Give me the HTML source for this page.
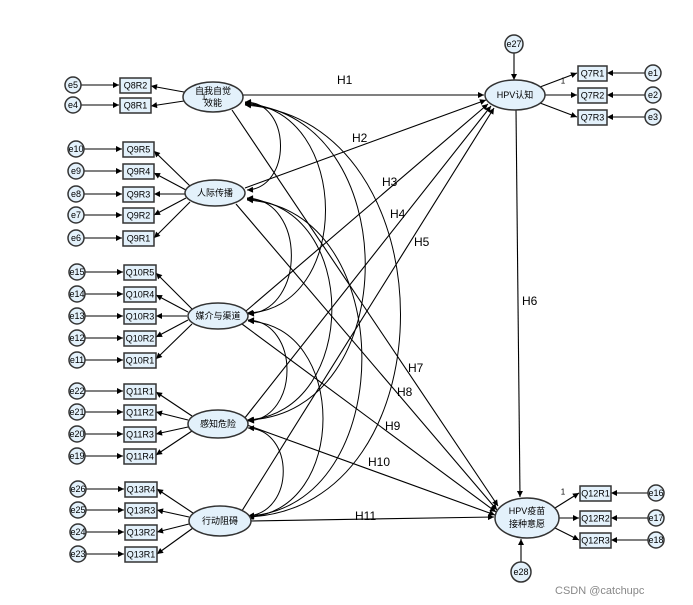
<!DOCTYPE html>
<html><head><meta charset="utf-8"><style>
body{margin:0;background:#fff}
svg{display:block;font-family:"Liberation Sans","Noto Sans CJK SC",sans-serif}
.b{fill:#e3f1fb;stroke:#333;stroke-width:1.5}
.l{stroke:#000;stroke-width:1.1;fill:none;marker-end:url(#a)}
.c{stroke:#000;stroke-width:1;fill:none;marker-end:url(#a);marker-start:url(#s)}
.t{font-size:9px;text-anchor:middle;dominant-baseline:central}
.h{font-size:12px}
.o{font-size:5px}
</style></head><body>
<svg width="693" height="605" viewBox="0 0 693 605" xmlns="http://www.w3.org/2000/svg">
<defs>
<marker id="a" viewBox="0 0 10 10" refX="10" refY="5" markerWidth="8" markerHeight="6" orient="auto" markerUnits="userSpaceOnUse"><path d="M0,0L10,5L0,10z"/></marker>
<marker id="s" viewBox="0 0 10 10" refX="0" refY="5" markerWidth="8" markerHeight="6" orient="auto" markerUnits="userSpaceOnUse"><path d="M10,0L0,5L10,10z"/></marker>
</defs>

<!-- covariance arcs -->
<path class="c" d="M245,102 C292,102 292,188 247,190"/>
<path class="c" d="M245,103 C352,110 352,310 247,313"/>
<path class="c" d="M245,104 C405,115 405,415 247,420"/>
<path class="c" d="M245,105 C452,120 452,510 247,517"/>
<path class="c" d="M247,198 C306,200 306,310 248,314"/>
<path class="c" d="M247,199 C360,205 360,412 248,420"/>
<path class="c" d="M247,200 C400,208 400,508 248,516"/>
<path class="c" d="M248,320 C300,322 300,418 248,421"/>
<path class="c" d="M248,321 C348,325 348,512 248,517"/>
<path class="c" d="M248,428 C295,430 295,512 248,516"/>

<!-- structural paths -->
<line class="l" x1="243" y1="95" x2="484" y2="95"/>
<line class="l" x1="245" y1="188" x2="486" y2="100"/>
<line class="l" x1="246" y1="311" x2="488" y2="104"/>
<line class="l" x1="244" y1="419" x2="491" y2="106"/>
<line class="l" x1="240" y1="514" x2="494" y2="108"/>
<line class="l" x1="516" y1="109" x2="520" y2="497"/>
<line class="l" x1="232" y1="110" x2="498" y2="506"/>
<line class="l" x1="236" y1="204" x2="497" y2="510"/>
<line class="l" x1="242" y1="324" x2="496" y2="512"/>
<line class="l" x1="247" y1="425" x2="495" y2="515"/>
<line class="l" x1="250" y1="521" x2="494" y2="517"/>

<g class="h">
<text x="337" y="84">H1</text><text x="352" y="142">H2</text><text x="382" y="186">H3</text>
<text x="390" y="218">H4</text><text x="414" y="246">H5</text><text x="522" y="305">H6</text>
<text x="408" y="372">H7</text><text x="397" y="396">H8</text><text x="385" y="430">H9</text>
<text x="368" y="466">H10</text><text x="355" y="520">H11</text>
</g>

<!-- left indicators -->
<g id="left">
<!-- latent -> indicators -->
<line class="l" x1="184" y1="92" x2="151" y2="86"/><line class="l" x1="184" y1="101" x2="151" y2="106"/>
<line class="l" x1="190" y1="186" x2="154" y2="151"/><line class="l" x1="186" y1="190" x2="154" y2="173"/>
<line class="l" x1="185" y1="194" x2="154" y2="194"/><line class="l" x1="186" y1="198" x2="154" y2="215"/>
<line class="l" x1="190" y1="202" x2="154" y2="238"/>
<line class="l" x1="192" y1="309" x2="156" y2="273"/><line class="l" x1="188" y1="312" x2="156" y2="295"/>
<line class="l" x1="187" y1="316" x2="156" y2="316"/><line class="l" x1="188" y1="320" x2="156" y2="337"/>
<line class="l" x1="192" y1="324" x2="156" y2="359"/>
<line class="l" x1="192" y1="416" x2="156" y2="392"/><line class="l" x1="188" y1="420" x2="156" y2="412"/>
<line class="l" x1="188" y1="427" x2="156" y2="434"/><line class="l" x1="192" y1="431" x2="156" y2="455"/>
<line class="l" x1="193" y1="513" x2="157" y2="489"/><line class="l" x1="189" y1="517" x2="157" y2="510"/>
<line class="l" x1="189" y1="524" x2="157" y2="532"/><line class="l" x1="193" y1="528" x2="157" y2="554"/>
</g>

<g class="t">
<!-- error -> indicator lines, boxes, circles -->
<g>
<line class="l" x1="81" y1="85" x2="119" y2="85"/><line class="l" x1="81" y1="105" x2="119" y2="105"/>
<rect class="b" x="120" y="78" width="31" height="15"/><text x="135.5" y="85.5">Q8R2</text>
<rect class="b" x="120" y="98" width="31" height="15"/><text x="135.5" y="105.5">Q8R1</text>
<circle class="b" cx="73" cy="85" r="8"/><text x="73" y="85">e5</text>
<circle class="b" cx="73" cy="105" r="8"/><text x="73" y="105">e4</text>
</g>
<g>
<line class="l" x1="84" y1="149" x2="122" y2="149"/><line class="l" x1="84" y1="171" x2="122" y2="171"/>
<line class="l" x1="84" y1="194" x2="122" y2="194"/><line class="l" x1="84" y1="215" x2="122" y2="215"/>
<line class="l" x1="84" y1="238" x2="122" y2="238"/>
<rect class="b" x="123" y="142" width="31" height="15"/><text x="138.5" y="149.5">Q9R5</text>
<rect class="b" x="123" y="164" width="31" height="15"/><text x="138.5" y="171.5">Q9R4</text>
<rect class="b" x="123" y="187" width="31" height="15"/><text x="138.5" y="194.5">Q9R3</text>
<rect class="b" x="123" y="208" width="31" height="15"/><text x="138.5" y="215.5">Q9R2</text>
<rect class="b" x="123" y="231" width="31" height="15"/><text x="138.5" y="238.5">Q9R1</text>
<circle class="b" cx="76" cy="149" r="8"/><text x="76" y="149">e10</text>
<circle class="b" cx="76" cy="171" r="8"/><text x="76" y="171">e9</text>
<circle class="b" cx="76" cy="194" r="8"/><text x="76" y="194">e8</text>
<circle class="b" cx="76" cy="215" r="8"/><text x="76" y="215">e7</text>
<circle class="b" cx="76" cy="238" r="8"/><text x="76" y="238">e6</text>
</g>
<g>
<line class="l" x1="85" y1="272" x2="123" y2="272"/><line class="l" x1="85" y1="294" x2="123" y2="294"/>
<line class="l" x1="85" y1="316" x2="123" y2="316"/><line class="l" x1="85" y1="338" x2="123" y2="338"/>
<line class="l" x1="85" y1="360" x2="123" y2="360"/>
<rect class="b" x="124" y="265" width="32" height="15"/><text x="140" y="272.5">Q10R5</text>
<rect class="b" x="124" y="287" width="32" height="15"/><text x="140" y="294.5">Q10R4</text>
<rect class="b" x="124" y="309" width="32" height="15"/><text x="140" y="316.5">Q10R3</text>
<rect class="b" x="124" y="331" width="32" height="15"/><text x="140" y="338.5">Q10R2</text>
<rect class="b" x="124" y="353" width="32" height="15"/><text x="140" y="360.5">Q10R1</text>
<circle class="b" cx="77" cy="272" r="8"/><text x="77" y="272">e15</text>
<circle class="b" cx="77" cy="294" r="8"/><text x="77" y="294">e14</text>
<circle class="b" cx="77" cy="316" r="8"/><text x="77" y="316">e13</text>
<circle class="b" cx="77" cy="338" r="8"/><text x="77" y="338">e12</text>
<circle class="b" cx="77" cy="360" r="8"/><text x="77" y="360">e11</text>
</g>
<g>
<line class="l" x1="85" y1="391" x2="123" y2="391"/><line class="l" x1="85" y1="412" x2="123" y2="412"/>
<line class="l" x1="85" y1="434" x2="123" y2="434"/><line class="l" x1="85" y1="456" x2="123" y2="456"/>
<rect class="b" x="124" y="384" width="32" height="15"/><text x="140" y="391.5">Q11R1</text>
<rect class="b" x="124" y="405" width="32" height="15"/><text x="140" y="412.5">Q11R2</text>
<rect class="b" x="124" y="427" width="32" height="15"/><text x="140" y="434.5">Q11R3</text>
<rect class="b" x="124" y="449" width="32" height="15"/><text x="140" y="456.5">Q11R4</text>
<circle class="b" cx="77" cy="391" r="8"/><text x="77" y="391">e22</text>
<circle class="b" cx="77" cy="412" r="8"/><text x="77" y="412">e21</text>
<circle class="b" cx="77" cy="434" r="8"/><text x="77" y="434">e20</text>
<circle class="b" cx="77" cy="456" r="8"/><text x="77" y="456">e19</text>
</g>
<g>
<line class="l" x1="86" y1="489" x2="124" y2="489"/><line class="l" x1="86" y1="510" x2="124" y2="510"/>
<line class="l" x1="86" y1="532" x2="124" y2="532"/><line class="l" x1="86" y1="554" x2="124" y2="554"/>
<rect class="b" x="125" y="482" width="32" height="15"/><text x="141" y="489.5">Q13R4</text>
<rect class="b" x="125" y="503" width="32" height="15"/><text x="141" y="510.5">Q13R3</text>
<rect class="b" x="125" y="525" width="32" height="15"/><text x="141" y="532.5">Q13R2</text>
<rect class="b" x="125" y="547" width="32" height="15"/><text x="141" y="554.5">Q13R1</text>
<circle class="b" cx="78" cy="489" r="8"/><text x="78" y="489">e26</text>
<circle class="b" cx="78" cy="510" r="8"/><text x="78" y="510">e25</text>
<circle class="b" cx="78" cy="532" r="8"/><text x="78" y="532">e24</text>
<circle class="b" cx="78" cy="554" r="8"/><text x="78" y="554">e23</text>
</g>

<!-- right side -->
<line class="l" x1="514" y1="53" x2="514" y2="80"/>
<line class="l" x1="540" y1="87" x2="577" y2="73"/><line class="l" x1="545" y1="95" x2="577" y2="95"/>
<line class="l" x1="540" y1="103" x2="577" y2="117"/>
<line class="l" x1="645" y1="73" x2="607" y2="73"/><line class="l" x1="645" y1="95" x2="607" y2="95"/>
<line class="l" x1="645" y1="117" x2="607" y2="117"/>
<rect class="b" x="578" y="66" width="29" height="15"/><text x="592.5" y="73.5">Q7R1</text>
<rect class="b" x="578" y="88" width="29" height="15"/><text x="592.5" y="95.5">Q7R2</text>
<rect class="b" x="578" y="110" width="29" height="15"/><text x="592.5" y="117.5">Q7R3</text>
<circle class="b" cx="653" cy="73" r="8"/><text x="653" y="73">e1</text>
<circle class="b" cx="653" cy="95" r="8"/><text x="653" y="95">e2</text>
<circle class="b" cx="653" cy="117" r="8"/><text x="653" y="117">e3</text>
<circle class="b" cx="514" cy="44" r="9"/><text x="514" y="44">e27</text>

<line class="l" x1="521" y1="562" x2="521" y2="539"/>
<line class="l" x1="555" y1="508" x2="579" y2="493"/><line class="l" x1="559" y1="518" x2="579" y2="518"/>
<line class="l" x1="555" y1="528" x2="579" y2="540"/>
<line class="l" x1="649" y1="493" x2="611" y2="493"/><line class="l" x1="649" y1="518" x2="611" y2="518"/>
<line class="l" x1="649" y1="540" x2="611" y2="540"/>
<rect class="b" x="580" y="486" width="31" height="15"/><text x="595.5" y="493.5">Q12R1</text>
<rect class="b" x="580" y="511" width="31" height="15"/><text x="595.5" y="518.5">Q12R2</text>
<rect class="b" x="580" y="533" width="31" height="15"/><text x="595.5" y="540.5">Q12R3</text>
<circle class="b" cx="656" cy="493" r="8"/><text x="656" y="493">e16</text>
<circle class="b" cx="656" cy="518" r="8"/><text x="656" y="518">e17</text>
<circle class="b" cx="656" cy="540" r="8"/><text x="656" y="540">e18</text>
<circle class="b" cx="521" cy="572" r="10"/><text x="521" y="572">e28</text>

<!-- latents -->
<ellipse class="b" cx="213" cy="97" rx="30" ry="15"/><text x="213" y="91">自我自觉</text><text x="213" y="103">效能</text>
<ellipse class="b" cx="215" cy="193" rx="30" ry="13"/><text x="215" y="193">人际传播</text>
<ellipse class="b" cx="218" cy="316" rx="30" ry="13"/><text x="218" y="316">媒介与渠道</text>
<ellipse class="b" cx="218" cy="424" rx="30" ry="14"/><text x="218" y="424">感知危险</text>
<ellipse class="b" cx="220" cy="521" rx="31" ry="15"/><text x="220" y="521">行动阻碍</text>
<ellipse class="b" cx="515" cy="95" rx="30" ry="15"/><text x="515" y="95">HPV认知</text>
<ellipse class="b" cx="527" cy="518" rx="32" ry="20"/><text x="527" y="511">HPV疫苗</text><text x="527" y="524">接种意愿</text>

<text x="204" y="97" style="font-size:8px">1</text>
<text x="563" y="81" style="font-size:8px">1</text>
<text x="563" y="492" style="font-size:8px">1</text>
</g>
<text x="555" y="594" style="font-size:11px;fill:#888">CSDN @catchupc</text>
</svg>
</body></html>
